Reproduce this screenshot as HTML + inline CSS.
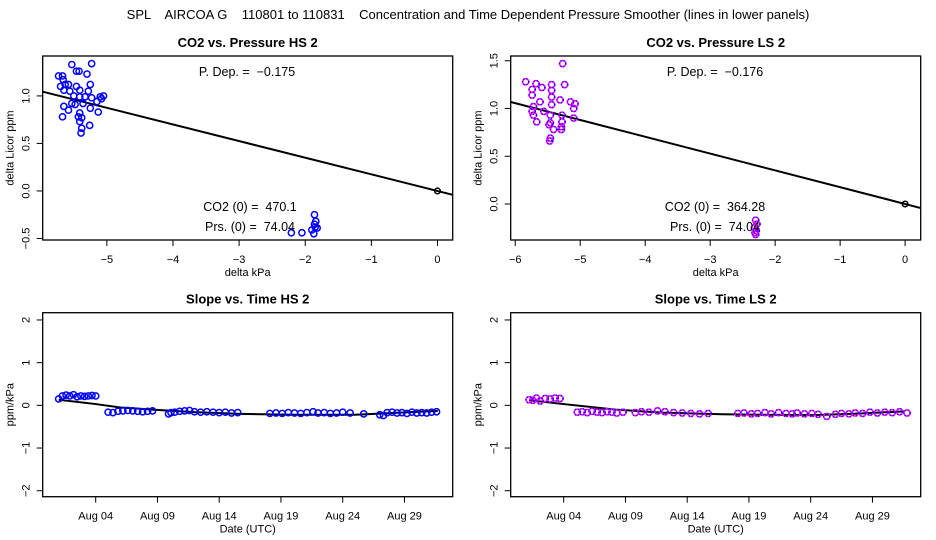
<!DOCTYPE html>
<html><head><meta charset="utf-8"><style>
body{margin:0;background:#fff}
svg{display:block;font-family:"Liberation Sans",sans-serif}
svg text{white-space:pre}
</style></head><body>
<svg id="c" width="936" height="540" xmlns="http://www.w3.org/2000/svg">
<text x="468" y="19" font-size="13" text-anchor="middle" xml:space="preserve">SPL    AIRCOA G    110801 to 110831    Concentration and Time Dependent Pressure Smoother (lines in lower panels)</text>
</svg>
<script>
// ---- data: top panels (delta kPa, delta ppm) ----
const hsPx=[-5.53,-5.23,-5.46,-5.42,-5.30,-5.73,-5.67,-5.66,-5.63,-5.58,-5.46,-5.25,-5.65,-5.56,-5.41,-5.28,-5.41,-5.33,-5.23,-5.10,-5.15,-5.53,-5.48,-5.65,-5.36,-5.25,-5.58,-5.13,-5.41,-5.67,-5.43,-5.38,-5.41,-5.26,-5.38,-5.39,-5.05,-5.08,-5.70,-5.50,-2.21,-2.05,-1.86,-1.86,-1.85,-1.90,-1.82,-1.87,-1.84,0];
const hsPy=[1.33,1.34,1.26,1.26,1.23,1.21,1.21,1.17,1.12,1.12,1.10,1.12,1.06,1.05,1.06,1.05,0.99,0.99,0.98,0.99,0.94,0.92,0.91,0.89,0.92,0.87,0.85,0.83,0.82,0.78,0.78,0.77,0.73,0.69,0.66,0.61,1.00,0.97,1.10,1.00,-0.44,-0.44,-0.25,-0.35,-0.38,-0.41,-0.39,-0.45,-0.32,0];
const lsPx=[-5.27,-5.84,-5.68,-5.59,-5.74,-5.44,-5.24,-5.44,-5.74,-5.44,-5.31,-5.62,-5.15,-5.08,-5.72,-5.44,-5.10,-5.74,-5.56,-5.46,-5.28,-5.72,-5.10,-5.28,-5.67,-5.46,-5.48,-5.29,-5.41,-5.29,-5.46,-5.47,-2.30,-2.28,-2.32,-2.29,-2.31,-2.30,0];
const lsPy=[1.47,1.28,1.26,1.22,1.20,1.25,1.25,1.19,1.14,1.12,1.09,1.07,1.07,1.05,1.02,1.04,1.00,0.97,0.97,0.93,0.93,0.93,0.90,0.86,0.86,0.85,0.83,0.81,0.78,0.78,0.69,0.66,-0.17,-0.21,-0.25,-0.28,-0.30,-0.32,0];
const hsSlope=-0.175, lsSlope=-0.176;
const topXTicksHS=[-5,-4,-3,-2,-1,0], topXTicksLS=[-6,-5,-4,-3,-2,-1,0];
const topYTicksHS=[-0.5,0.0,0.5,1.0], topYTicksLS=[0.0,0.5,1.0,1.5];
// ---- data: bottom panels (day of Aug, slope) ----
const hsDays=[1.0,1.3,1.6,1.9,2.2,2.5,2.8,3.1,3.4,3.7,4.0,5.0,5.4,5.8,6.2,6.6,7.0,7.4,7.8,8.2,8.6,9.9,10.1,10.4,10.8,11.2,11.6,12.0,12.5,13.0,13.5,14.0,14.5,15.0,15.5,18.1,18.6,19.1,19.6,20.1,20.6,21.1,21.6,22.0,22.5,23.0,23.5,24.0,24.6,25.7,27.0,27.3,27.6,28.0,28.4,28.8,29.2,29.6,30.0,30.4,30.8,31.2,31.6];
const hsSlopes=[0.15,0.22,0.24,0.22,0.25,0.20,0.22,0.21,0.22,0.23,0.22,-0.16,-0.17,-0.14,-0.13,-0.12,-0.13,-0.14,-0.15,-0.14,-0.13,-0.20,-0.17,-0.16,-0.14,-0.13,-0.12,-0.15,-0.16,-0.15,-0.16,-0.17,-0.16,-0.18,-0.17,-0.19,-0.18,-0.19,-0.17,-0.18,-0.19,-0.17,-0.15,-0.18,-0.17,-0.19,-0.18,-0.16,-0.18,-0.20,-0.22,-0.24,-0.17,-0.16,-0.18,-0.17,-0.19,-0.16,-0.18,-0.17,-0.18,-0.16,-0.15];
const hsFitDays=[1,4,6,8.6,12,15.7,20,25,28,31.7];
const hsFit=[0.13,0.03,-0.05,-0.10,-0.16,-0.20,-0.22,-0.22,-0.18,-0.13];
const lsDays=[1.2,1.5,1.8,2.1,2.5,2.9,3.3,3.7,5.1,5.5,5.9,6.3,6.7,7.1,7.5,7.9,8.3,8.8,9.8,10.3,10.9,11.6,12.2,12.9,13.6,14.3,15.0,15.7,18.1,18.6,19.2,19.7,20.3,20.8,21.4,22.0,22.5,22.9,23.5,24.1,24.6,25.3,26.0,26.5,27.1,27.6,28.2,28.8,29.4,30.0,30.6,31.2,31.8];
const lsSlopes=[0.13,0.12,0.17,0.10,0.16,0.15,0.17,0.16,-0.16,-0.15,-0.17,-0.14,-0.16,-0.17,-0.15,-0.16,-0.18,-0.16,-0.17,-0.15,-0.16,-0.13,-0.15,-0.17,-0.18,-0.19,-0.20,-0.19,-0.19,-0.18,-0.20,-0.19,-0.17,-0.20,-0.17,-0.19,-0.20,-0.18,-0.20,-0.19,-0.21,-0.26,-0.21,-0.19,-0.20,-0.18,-0.19,-0.16,-0.18,-0.16,-0.17,-0.15,-0.18];
const lsFitDays=[1.2,4,8.2,12,16.8,20,24.4,28,31.6];
const lsFit=[0.12,0.03,-0.10,-0.17,-0.21,-0.22,-0.23,-0.19,-0.14];
const dayTicks=[4,9,14,19,24,29];
const dayLabels=["Aug 04","Aug 09","Aug 14","Aug 19","Aug 24","Aug 29"];
const botYTicks=[-2,-1,0,1,2];

const svg=document.getElementById('c');
const NS="http://www.w3.org/2000/svg";
function mk(tag,attrs,parent){const e=document.createElementNS(NS,tag);for(const k in attrs)e.setAttribute(k,attrs[k]);(parent||svg).appendChild(e);return e;}
function txt(x,y,s,size,anchor,parent,rot){const t=mk('text',{x:x,y:y,'font-size':size,'text-anchor':anchor||'middle'},parent);if(rot)t.setAttribute('transform','rotate(-90 '+x+' '+y+')');t.textContent=s;return t;}

function panel(o){
  const g=mk('g',{});
  
  
  const X=v=>o.L+(v-o.x0)/(o.x1-o.x0)*(o.R-o.L);
  const Y=v=>o.B-(v-o.y0)/(o.y1-o.y0)*(o.B-o.T);
  const box=mk('rect',{x:o.L,y:o.T,width:o.R-o.L,height:o.B-o.T,fill:'none',stroke:'#000','stroke-width':1.3},g);
  
  
  const tt=txt((o.L+o.R)/2,o.T-9,o.title,13,'middle',g);tt.setAttribute('font-weight','bold');
  
  
  o.xt.forEach((v,i)=>{const x=X(v);mk('line',{x1:x,x2:x,y1:o.B,y2:o.B+6,stroke:'#000'},g);
    const l=txt(x,o.B+23,o.xl?o.xl[i]:String(v).replace('-','\u2212'),11,'middle',g);
    
    });
  o.yt.forEach(v=>{const y=Y(v);mk('line',{x1:o.L-6,x2:o.L,y1:y,y2:y,stroke:'#000'},g);
    const s=o.yfmt?v.toFixed(1):String(v);
    const l=txt(o.L-13,y,s.replace('-','\u2212'),11,'middle',g,true);
    
    });
  const xa=txt((o.L+o.R)/2,o.B+36,o.xlab,11,'middle',g);
  
  
  const ya=txt(o.L-29,(o.T+o.B)/2,o.ylab,11,'middle',g,true);
  
  
  const cp=mk('clipPath',{id:'cp'+o.name},g);mk('rect',{x:o.L,y:o.T,width:o.R-o.L,height:o.B-o.T},cp);
  const d=mk('g',{'clip-path':'url(#cp'+o.name+')'},g);
  if(o.slope!==undefined){
    const ln=mk('line',{x1:X(o.x0),y1:Y(o.slope*o.x0),x2:X(o.x1),y2:Y(o.slope*o.x1),stroke:'#000','stroke-width':2},d);
    
    
  }
  if(o.fx){
    const p=mk('polyline',{points:o.fx.map((v,i)=>X(v)+','+Y(o.fy[i])).join(' '),fill:'none',stroke:'#000','stroke-width':2},d);
    
    
  }
  o.px.forEach((v,i)=>{
    const last=o.slope!==undefined&&v===0&&o.py[i]===0;
    const c=mk('circle',{cx:X(v),cy:Y(o.py[i]),r:last?2.8:3.1,fill:'none',stroke:last?'#000':o.col,'stroke-width':1.5},d);
    
    
    if(o.col2&&!last)mk('circle',{cx:X(v),cy:Y(o.py[i]),r:3.1,fill:'none',stroke:o.col2,'stroke-width':1.5,'stroke-dasharray':'1 2'},d);
  });
  (o.notes||[]).forEach(n=>{const t=txt(n[0],n[1],n[2],12.5,'middle',g);
    
    });
}
panel({name:'co2-vs-pressure-hs',L:42.7,R:452.7,T:56,B:240,x0:-5.97,x1:0.23,y0:-0.516,y1:1.42,xt:topXTicksHS,yt:topYTicksHS,yfmt:true,
  title:'CO2 vs. Pressure HS 2',xlab:'delta kPa',ylab:'delta Licor ppm',px:hsPx,py:hsPy,slope:hsSlope,col:'#0000ff',
  notes:[[247,76,'P. Dep. =  \u22120.175'],[250,211,'CO2 (0) =  470.1'],[250,231,'Prs. (0) =  74.04']]});
panel({name:'co2-vs-pressure-ls',L:510.7,R:920.7,T:56,B:240,x0:-6.07,x1:0.24,y0:-0.377,y1:1.55,xt:topXTicksLS,yt:topYTicksLS,yfmt:true,
  title:'CO2 vs. Pressure LS 2',xlab:'delta kPa',ylab:'delta Licor ppm',px:lsPx,py:lsPy,slope:lsSlope,col:'#ff00ff',col2:'#0000ff',
  notes:[[715,76,'P. Dep. =  \u22120.176'],[715,211,'CO2 (0) =  364.28'],[715,231,'Prs. (0) =  74.04']]});
panel({name:'slope-vs-time-hs',L:42.7,R:452.7,T:312.7,B:496.7,x0:4-(95.7-42.7)/12.35,x1:4+(452.7-95.7)/12.35,y0:-2.14,y1:2.17,xt:dayTicks,xl:dayLabels,yt:botYTicks,
  title:'Slope vs. Time HS 2',xlab:'Date (UTC)',ylab:'ppm/kPa',px:hsDays,py:hsSlopes,fx:hsFitDays,fy:hsFit,col:'#0000ff'});
panel({name:'slope-vs-time-ls',L:510.7,R:920.7,T:312.7,B:496.7,x0:4-(95.7-42.7)/12.35,x1:4+(452.7-95.7)/12.35,y0:-2.14,y1:2.17,xt:dayTicks,xl:dayLabels,yt:botYTicks,
  title:'Slope vs. Time LS 2',xlab:'Date (UTC)',ylab:'ppm/kPa',px:lsDays,py:lsSlopes,fx:lsFitDays,fy:lsFit,col:'#ff00ff',col2:'#0000ff'});
</script>
</body></html>
